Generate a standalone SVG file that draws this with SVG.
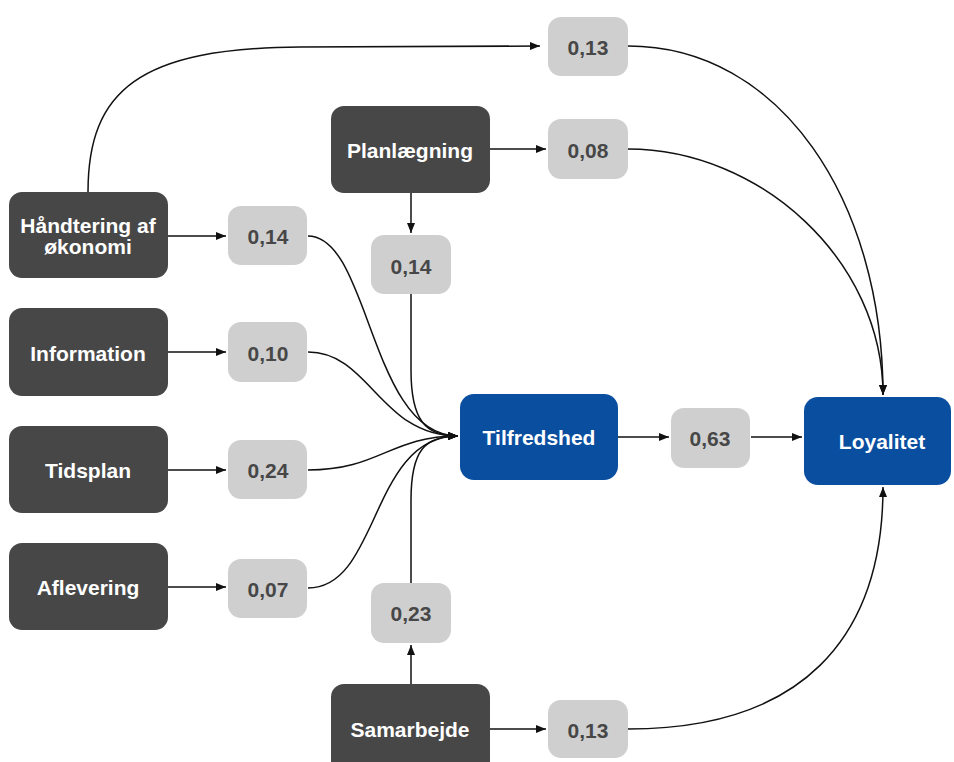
<svg xmlns="http://www.w3.org/2000/svg" width="954" height="762" viewBox="0 0 954 762">
<defs>
<marker id="ah" viewBox="0 0 10 8" refX="10" refY="4" markerWidth="10" markerHeight="8" markerUnits="userSpaceOnUse" orient="auto">
<path d="M0,0 L10,4 L0,8 Z" fill="#111"/>
</marker>
<style>
.dark{fill:#474747}
.coef{fill:#cfcfcf}
.blue{fill:#0a4ea0}
.lt{font-family:"Liberation Sans",Arial,sans-serif;font-weight:bold;font-size:21px;fill:#ffffff;text-anchor:middle;dominant-baseline:central}
.ct{font-family:"Liberation Sans",Arial,sans-serif;font-weight:bold;font-size:21px;fill:#474747;text-anchor:middle;dominant-baseline:central}
.c{fill:none;stroke:#111;stroke-width:1.5}
.a{marker-end:url(#ah)}
</style>
</defs>
<rect width="954" height="762" fill="#ffffff"/>
<g id="connectors">
<path class="c a" d="M88 192 C88 90 140 48 300 47 L540 46"/>
<path class="c a" d="M168 236 L226 236"/>
<path class="c a" d="M168 352 L226 352"/>
<path class="c a" d="M168 470 L226 470"/>
<path class="c a" d="M168 587 L226 587"/>
<path class="c a" d="M411 193 L411 233"/>
<path class="c a" d="M490 149 L546 149"/>
<path class="c a" d="M618 437 L669 437"/>
<path class="c a" d="M751 437 L802 437"/>
<path class="c a" d="M411 684 L411 645"/>
<path class="c a" d="M490 729 L546 729"/>
<path class="c a" d="M308 236 C370 236 370 436 458 436"/>
<path class="c a" d="M308 352 C370 352 380 436 458 436"/>
<path class="c a" d="M308 470 C380 470 390 436 458 436"/>
<path class="c a" d="M308 588 C380 588 370 436 458 436"/>
<path class="c a" d="M411 293 L411 370 C411 420 425 436 458 436"/>
<path class="c a" d="M411 583 L411 500 C411 450 425 436 458 436"/>
<path class="c a" d="M628 46 C780 46 883 200 883 395"/>
<path class="c a" d="M628 149 C760 149 883 260 883 395"/>
<path class="c a" d="M628 729 C800 729 883 640 883 487"/>
</g>
<g id="haandtering"><rect class="dark" x="9" y="192" width="159" height="86" rx="13"/><text class="lt" x="88" y="225">Håndtering af</text><text class="lt" x="88" y="246">økonomi</text></g>
<g id="information"><rect class="dark" x="9" y="308" width="159" height="88" rx="13"/><text class="lt" x="88" y="353">Information</text></g>
<g id="tidsplan"><rect class="dark" x="9" y="426" width="159" height="87" rx="13"/><text class="lt" x="88" y="470">Tidsplan</text></g>
<g id="aflevering"><rect class="dark" x="9" y="543" width="159" height="87" rx="13"/><text class="lt" x="88" y="587">Aflevering</text></g>
<g id="planlaegning"><rect class="dark" x="331" y="106" width="159" height="87" rx="13"/><text class="lt" x="410" y="150">Planlægning</text></g>
<g id="samarbejde"><rect class="dark" x="331" y="684" width="159" height="90" rx="13"/><text class="lt" x="410" y="729">Samarbejde</text></g>
<g id="tilfredshed"><rect class="blue" x="460" y="394" width="158" height="86" rx="14"/><text class="lt" x="539" y="437">Tilfredshed</text></g>
<g id="loyalitet"><rect class="blue" x="804" y="397" width="147" height="88" rx="14"/><text class="lt" x="882" y="441">Loyalitet</text></g>
<g id="c013top"><rect class="coef" x="548" y="17" width="80" height="59" rx="13"/><text class="ct" x="588" y="47">0,13</text></g>
<g id="c008"><rect class="coef" x="548" y="119" width="80" height="60" rx="13"/><text class="ct" x="588" y="150">0,08</text></g>
<g id="c014a"><rect class="coef" x="228" y="206" width="79" height="59" rx="13"/><text class="ct" x="268" y="236">0,14</text></g>
<g id="c014b"><rect class="coef" x="371" y="235" width="80" height="59" rx="13"/><text class="ct" x="411" y="266">0,14</text></g>
<g id="c010"><rect class="coef" x="228" y="322" width="79" height="60" rx="13"/><text class="ct" x="268" y="353">0,10</text></g>
<g id="c024"><rect class="coef" x="228" y="440" width="79" height="59" rx="13"/><text class="ct" x="268" y="470">0,24</text></g>
<g id="c007"><rect class="coef" x="228" y="559" width="79" height="59" rx="13"/><text class="ct" x="268" y="589">0,07</text></g>
<g id="c063"><rect class="coef" x="671" y="408" width="79" height="60" rx="13"/><text class="ct" x="710" y="438">0,63</text></g>
<g id="c023"><rect class="coef" x="371" y="583" width="80" height="60" rx="13"/><text class="ct" x="411" y="613">0,23</text></g>
<g id="c013bot"><rect class="coef" x="548" y="700" width="80" height="58" rx="13"/><text class="ct" x="588" y="730">0,13</text></g>
</svg>
